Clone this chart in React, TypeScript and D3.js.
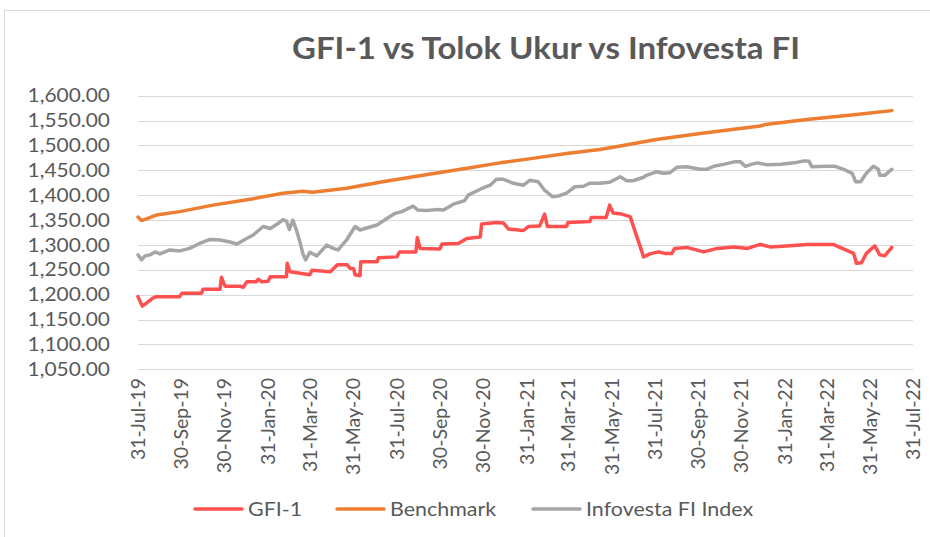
import { useEffect, useRef } from 'react';
import * as d3 from 'd3';

const title = 'GFI-1 vs Tolok Ukur vs Infovesta FI';

const yTicks = [1050, 1100, 1150, 1200, 1250, 1300, 1350, 1400, 1450, 1500, 1550, 1600];

const xTicks = [
  '2019-07-31', '2019-09-30', '2019-11-30', '2020-01-31', '2020-03-31', '2020-05-31',
  '2020-07-31', '2020-09-30', '2020-11-30', '2021-01-31', '2021-03-31', '2021-05-31',
  '2021-07-31', '2021-09-30', '2021-11-30', '2022-01-31', '2022-03-31', '2022-05-31', '2022-07-31',
];

const gfiDates = [
  '2019-07-31', '2019-08-06', '2019-08-12', '2019-08-21', '2019-08-26', '2019-09-28', '2019-10-01',
  '2019-10-29', '2019-10-31', '2019-11-24', '2019-11-26', '2019-12-01', '2019-12-22', '2019-12-27',
  '2020-01-01', '2020-01-14', '2020-01-17', '2020-01-22', '2020-01-31', '2020-02-03', '2020-02-26',
  '2020-02-27', '2020-03-02', '2020-03-30', '2020-04-02', '2020-04-28', '2020-05-08', '2020-05-22',
  '2020-05-26', '2020-05-31', '2020-06-02', '2020-06-09', '2020-06-10', '2020-07-03', '2020-07-05',
  '2020-07-31', '2020-08-04', '2020-08-27', '2020-08-29', '2020-09-02', '2020-09-30', '2020-10-03',
  '2020-10-26', '2020-11-07', '2020-11-26', '2020-11-28', '2020-12-19', '2020-12-29', '2021-01-05',
  '2021-01-26', '2021-02-02', '2021-02-18', '2021-02-25', '2021-03-01', '2021-03-28', '2021-03-30',
  '2021-04-30', '2021-05-02', '2021-05-23', '2021-05-28', '2021-06-02', '2021-06-14', '2021-06-26',
  '2021-07-15', '2021-07-24', '2021-08-05', '2021-08-14', '2021-08-24', '2021-08-28', '2021-09-14',
  '2021-10-08', '2021-10-27', '2021-11-20', '2021-12-09', '2021-12-27', '2022-01-10', '2022-02-02',
  '2022-03-03', '2022-04-09', '2022-05-08', '2022-05-12', '2022-05-19', '2022-05-26', '2022-06-07',
  '2022-06-14', '2022-06-21', '2022-07-01',
];
const gfiValues = [
  1196, 1177, 1183, 1193, 1196, 1196, 1203,
  1203, 1211, 1211, 1235, 1217, 1217, 1215,
  1226, 1226, 1231, 1226, 1227, 1236, 1236,
  1263, 1246, 1240, 1249, 1246, 1260, 1260,
  1253, 1252, 1240, 1238, 1266, 1266, 1274,
  1276, 1286, 1286, 1315, 1293, 1292, 1302,
  1303, 1313, 1316, 1342, 1345, 1344, 1332,
  1329, 1337, 1338, 1362, 1337, 1337, 1345,
  1347, 1355, 1355, 1380, 1364, 1362, 1357,
  1276, 1282, 1286, 1283, 1283, 1293, 1295,
  1286, 1293, 1296, 1293, 1301, 1296, 1298,
  1301, 1301, 1283, 1263, 1264, 1283, 1298,
  1280, 1278, 1295,
];

const benchDates = [
  '2019-07-31', '2019-08-05', '2019-08-26', '2019-09-28', '2019-11-14', '2020-01-10', '2020-02-21',
  '2020-03-20', '2020-04-03', '2020-05-21', '2020-07-11', '2020-08-28', '2020-11-07', '2020-12-24',
  '2021-02-08', '2021-03-28', '2021-05-14', '2021-06-12', '2021-08-02', '2021-10-03', '2021-12-27',
  '2022-01-03', '2022-03-03', '2022-05-12', '2022-07-01',
];
const benchValues = [
  1356, 1349, 1360, 1367, 1380, 1393, 1404,
  1408, 1406, 1414, 1427, 1438, 1454, 1465,
  1474, 1484, 1492, 1499, 1512, 1524, 1539,
  1542, 1552, 1562, 1570,
];

const infoDates = [
  '2019-07-31', '2019-08-05', '2019-08-10', '2019-08-17', '2019-08-24', '2019-08-31', '2019-09-14',
  '2019-09-28', '2019-10-12', '2019-10-26', '2019-11-10', '2019-11-24', '2019-12-08', '2019-12-18',
  '2019-12-29', '2020-01-10', '2020-01-24', '2020-02-03', '2020-02-14', '2020-02-21', '2020-02-26',
  '2020-03-01', '2020-03-06', '2020-03-11', '2020-03-16', '2020-03-20', '2020-03-24', '2020-03-30',
  '2020-04-09', '2020-04-23', '2020-05-02', '2020-05-09', '2020-05-21', '2020-06-02', '2020-06-09',
  '2020-07-03', '2020-07-17', '2020-07-28', '2020-08-07', '2020-08-23', '2020-08-30', '2020-09-11',
  '2020-09-25', '2020-10-05', '2020-10-19', '2020-11-04', '2020-11-09', '2020-11-26', '2020-12-10',
  '2020-12-19', '2020-12-29', '2021-01-12', '2021-01-26', '2021-02-04', '2021-02-16', '2021-02-25',
  '2021-03-08', '2021-03-18', '2021-03-28', '2021-04-09', '2021-04-21', '2021-04-30', '2021-05-14',
  '2021-05-28', '2021-06-12', '2021-06-21', '2021-06-30', '2021-07-15', '2021-07-19', '2021-08-02',
  '2021-08-12', '2021-08-21', '2021-08-31', '2021-09-14', '2021-10-03', '2021-10-12', '2021-10-22',
  '2021-11-05', '2021-11-20', '2021-11-29', '2021-12-06', '2021-12-14', '2021-12-23', '2022-01-06',
  '2022-01-25', '2022-02-13', '2022-02-27', '2022-03-06', '2022-03-10', '2022-03-31', '2022-04-12',
  '2022-04-24', '2022-05-06', '2022-05-11', '2022-05-18', '2022-05-26', '2022-06-05', '2022-06-12',
  '2022-06-14', '2022-06-21', '2022-07-01',
];
const infoValues = [
  1280, 1270, 1278, 1280, 1286, 1282, 1290,
  1288, 1293, 1303, 1311, 1310, 1306, 1302,
  1311, 1320, 1337, 1333, 1343, 1351, 1348,
  1331, 1350, 1330, 1306, 1283, 1270, 1285,
  1278, 1300, 1293, 1290, 1310, 1337, 1330,
  1340, 1353, 1363, 1367, 1378, 1370, 1369,
  1371, 1370, 1382, 1389, 1400, 1412, 1420,
  1432, 1432, 1424, 1420, 1430, 1427, 1410,
  1397, 1399, 1404, 1417, 1418, 1424, 1424,
  1426, 1437, 1429, 1429, 1436, 1440, 1447,
  1444, 1445, 1456, 1457, 1452, 1452, 1458,
  1462, 1467, 1467, 1458, 1462, 1465, 1461,
  1462, 1465, 1469, 1468, 1457, 1458, 1458,
  1452, 1444, 1427, 1427, 1444, 1458, 1452,
  1440, 1440, 1452,
];

const seriesNames = ['GFI-1', 'Benchmark', 'Infovesta FI Index'];
const seriesColors = ['#ff5050', '#ed7d31', '#a5a5a5'];

export default function App() {
  const svgRef = useRef<SVGSVGElement>(null);

  useEffect(() => {
    if (!svgRef.current) return;

    const width = 930;
    const height = 537;
    const font = 'Lato, "Open Sans", sans-serif';
    const textColor = '#595959';
    // the source picture is a bit stretched sideways, so horizontal text gets widened too
    const stretch = 1.1;

    const svg = d3.select(svgRef.current);
    svg.selectAll('*').remove();

    const parse = d3.timeParse('%Y-%m-%d');
    const fmt = d3.timeFormat('%d-%b-%y');

    const x = d3.scaleTime()
      .domain([parse(xTicks[0])!, parse(xTicks[xTicks.length - 1])!])
      .range([138, 913]);
    const y = d3.scaleLinear().domain([1050, 1600]).range([369.3, 95.7]);

    // chart frame (only top and left edges show in the crop)
    svg.append('line')
      .attr('x1', 4.5).attr('x2', width).attr('y1', 10.5).attr('y2', 10.5)
      .attr('stroke', '#d9d9d9');
    svg.append('line')
      .attr('x1', 4.5).attr('x2', 4.5).attr('y1', 10).attr('y2', height)
      .attr('stroke', '#d9d9d9');

    // title
    svg.append('text')
      .attr('transform', `translate(546,59) scale(${stretch},1)`)
      .attr('text-anchor', 'middle')
      .attr('font-family', font)
      .attr('font-weight', 'bold')
      .attr('font-size', '30px')
      .attr('fill', textColor)
      .text(title);

    // gridlines + y labels
    svg.append('g').selectAll('line')
      .data(yTicks)
      .join('line')
      .attr('x1', 138).attr('x2', 913)
      .attr('y1', d => Math.round(y(d)) + 0.5)
      .attr('y2', d => Math.round(y(d)) + 0.5)
      .attr('stroke', '#d9d9d9')
      .attr('stroke-width', 1);

    svg.append('g').selectAll('text')
      .data(yTicks)
      .join('text')
      .attr('transform', d => `translate(110,${y(d)}) scale(${stretch},1)`)
      .attr('dy', '0.35em')
      .attr('text-anchor', 'end')
      .attr('font-family', font)
      .attr('font-size', '19px')
      .attr('fill', textColor)
      .text(d => d3.format(',.2f')(d));

    // x labels, rotated
    svg.append('g').selectAll('text')
      .data(xTicks)
      .join('text')
      .attr('transform', d => `translate(${x(parse(d)!)},378) rotate(-90)`)
      .attr('dy', '0.35em')
      .attr('text-anchor', 'end')
      .attr('font-family', font)
      .attr('font-size', '19.5px')
      .attr('fill', textColor)
      .text(d => fmt(parse(d)!));

    // lines
    const allDates = [gfiDates, benchDates, infoDates];
    const allValues = [gfiValues, benchValues, infoValues];
    const line = d3.line<[Date, number]>()
      .x(d => x(d[0]))
      .y(d => y(d[1]));

    [2, 1, 0].forEach(i => {
      const pts: [Date, number][] = allDates[i].map((d, j) => [parse(d)!, allValues[i][j]]);
      svg.append('path')
        .datum(pts)
        .attr('d', line)
        .attr('fill', 'none')
        .attr('stroke', seriesColors[i])
        .attr('stroke-width', 3.5)
        .attr('stroke-linejoin', 'round')
        .attr('stroke-linecap', 'round');
    });

    // legend
    const legendX = [195, 337, 533];
    const legend = svg.append('g');
    seriesNames.forEach((name, i) => {
      legend.append('line')
        .attr('x1', legendX[i]).attr('x2', legendX[i] + 47)
        .attr('y1', 509).attr('y2', 509)
        .attr('stroke', seriesColors[i])
        .attr('stroke-width', 3.5)
        .attr('stroke-linecap', 'round');
      legend.append('text')
        .attr('transform', `translate(${legendX[i] + 53},509) scale(${stretch},1)`)
        .attr('dy', '0.35em')
        .attr('font-family', font)
        .attr('font-size', '19.5px')
        .attr('fill', textColor)
        .text(name);
    });
  }, []);

  return (
    <svg
      ref={svgRef}
      width={930}
      height={537}
      style={{ position: 'absolute', left: 0, top: 0, background: '#fff' }}
    />
  );
}
